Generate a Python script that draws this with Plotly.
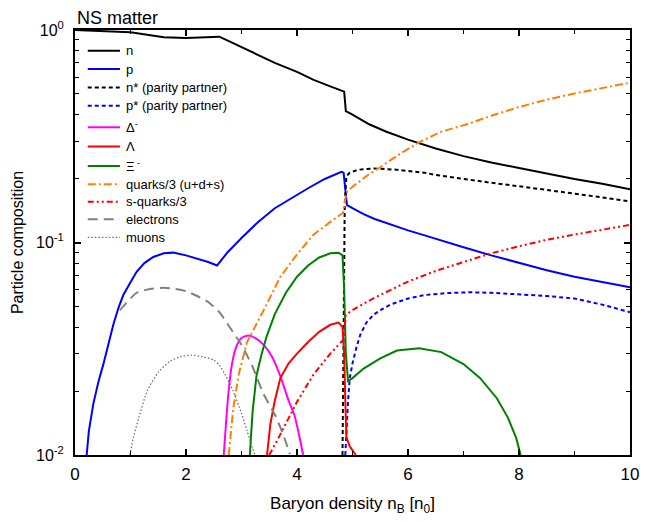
import plotly.graph_objects as go

# Particle fractions in neutron-star matter vs baryon density (units of n0)
n_x = [0, 0.5, 1.0, 1.3, 1.6, 2.0, 2.3, 2.6, 2.8, 3.0, 3.3, 3.6, 4.0, 4.3, 4.6, 4.85,
       4.88, 5.0, 5.3, 5.6, 6.0, 6.5, 7.0, 7.5, 8.0, 8.5, 9.0, 9.5, 10]
n_y = [1.0, 0.99, 0.975, 0.95, 0.925, 0.917, 0.92, 0.93, 0.88, 0.83, 0.76, 0.70, 0.635,
       0.582, 0.543, 0.513, 0.415, 0.400, 0.36, 0.333, 0.305, 0.277, 0.255, 0.238, 0.224,
       0.211, 0.199, 0.189, 0.178]

p_x = [0.21, 0.25, 0.33, 0.42, 0.51, 0.6, 0.69, 0.78, 0.87, 1.0, 1.11, 1.25, 1.41, 1.6,
       1.77, 2.0, 2.2, 2.4, 2.56, 2.75, 3.0, 3.3, 3.6, 3.9, 4.2, 4.5, 4.7, 4.8, 4.84, 4.86,
       4.88, 4.9, 5.0, 5.2, 5.4, 5.7, 6.0, 6.3, 6.6, 7.0, 7.5, 8.0, 8.5, 9.0, 9.5, 10]
p_y = [0.01, 0.013, 0.0174, 0.022, 0.0267, 0.0335, 0.041, 0.049, 0.0566, 0.065, 0.0728,
       0.08, 0.0855, 0.089, 0.0896, 0.087, 0.084, 0.081, 0.078, 0.09, 0.105, 0.125, 0.145,
       0.162, 0.18, 0.199, 0.21, 0.215, 0.213, 0.19, 0.16, 0.15, 0.145, 0.136, 0.129,
       0.121, 0.114, 0.108, 0.102, 0.095, 0.087, 0.080, 0.074, 0.069, 0.065, 0.0615]

ns_x = [4.82, 4.84, 4.86, 4.89, 4.95, 5.1, 5.4, 5.8, 6.3, 6.5, 7.0, 7.5, 8.0, 8.5, 9.0, 9.5, 10]
ns_y = [0.01, 0.05, 0.15, 0.205, 0.213, 0.22, 0.223, 0.22, 0.213, 0.208, 0.199, 0.191,
        0.184, 0.177, 0.170, 0.163, 0.156]

ps_x = [4.87, 4.9, 4.92, 4.95, 5.0, 5.07, 5.14, 5.25, 5.38, 5.5, 5.68, 6.0, 6.3, 6.7,
        7.1, 7.5, 8.0, 8.5, 9.0, 9.5, 10]
ps_y = [0.01, 0.015, 0.018, 0.023, 0.027, 0.032, 0.0368, 0.042, 0.0457, 0.048, 0.051,
        0.0545, 0.0566, 0.0578, 0.0583, 0.058, 0.0572, 0.056, 0.0545, 0.051, 0.047]

dm_x = [2.68, 2.72, 2.76, 2.82, 2.9, 3.0, 3.12, 3.25, 3.4, 3.55, 3.7, 3.85, 3.95, 4.05, 4.11]
dm_y = [0.01, 0.014, 0.019, 0.026, 0.032, 0.0355, 0.0365, 0.0355, 0.033, 0.029, 0.0235,
        0.018, 0.0155, 0.012, 0.01]

lam_x = [3.46, 3.52, 3.6, 3.7, 3.85, 4.0, 4.2, 4.4, 4.6, 4.75, 4.82, 4.85, 4.87, 4.89,
         4.95, 5.06]
lam_y = [0.01, 0.014, 0.018, 0.023, 0.027, 0.030, 0.034, 0.038, 0.041, 0.042, 0.040,
         0.03, 0.018, 0.0121, 0.011, 0.01]

xi_x = [3.15, 3.2, 3.27, 3.35, 3.45, 3.6, 3.8, 4.0, 4.2, 4.4, 4.6, 4.75, 4.82, 4.85, 4.88,
        4.92, 5.0, 5.2, 5.5, 5.8, 6.2, 6.6, 7.0, 7.3, 7.6, 7.8, 7.95, 8.03]
xi_y = [0.01, 0.016, 0.0236, 0.029, 0.036, 0.046, 0.058, 0.069, 0.078, 0.085, 0.089,
        0.0895, 0.087, 0.06, 0.03, 0.0223, 0.023, 0.0255, 0.0285, 0.031, 0.0318, 0.0305,
        0.0268, 0.023, 0.0185, 0.015, 0.012, 0.01]

qk_x = [2.77, 2.8, 2.85, 2.95, 3.1, 3.4, 3.7, 4.0, 4.3, 4.6, 4.83, 4.89, 5.0, 5.14, 5.3,
        5.5, 5.86, 6.22, 6.58, 7.06, 7.5, 8.0, 8.5, 9.0, 9.5, 10]
qk_y = [0.01, 0.012, 0.0165, 0.024, 0.034, 0.048, 0.069, 0.088, 0.109, 0.125, 0.138,
        0.172, 0.183, 0.195, 0.21, 0.226, 0.262, 0.298, 0.331, 0.36, 0.395, 0.434, 0.47,
        0.503, 0.535, 0.565]

sq_x = [3.5, 3.7, 4.0, 4.3, 4.6, 4.84, 4.88, 5.0, 5.2, 5.4, 5.7, 6.0, 6.5, 7.0, 7.5,
        8.0, 8.5, 9.0, 9.5, 10]
sq_y = [0.01, 0.0125, 0.0178, 0.024, 0.030, 0.035, 0.0457, 0.048, 0.0515, 0.055, 0.06,
        0.0655, 0.0735, 0.081, 0.089, 0.096, 0.103, 0.109, 0.115, 0.121]

el_x = [0.81, 0.9, 1.1, 1.3, 1.6, 1.8, 2.0, 2.2, 2.4, 2.6, 2.8, 3.0, 3.2, 3.4, 3.6, 3.75, 3.87]
el_y = [0.048, 0.051, 0.0577, 0.06, 0.0613, 0.0605, 0.059, 0.056, 0.0525, 0.047, 0.0395,
        0.033, 0.026, 0.0193, 0.0155, 0.0125, 0.0101]

mu_x = [0.99, 1.05, 1.15, 1.3, 1.5, 1.7, 1.9, 2.1, 2.3, 2.5, 2.6, 2.7, 2.85, 3.0, 3.1, 3.24]
mu_y = [0.01, 0.012, 0.015, 0.02, 0.0245, 0.0275, 0.029, 0.0295, 0.029, 0.028, 0.0265,
        0.024, 0.02, 0.0157, 0.013, 0.01]

# name, x, y, colour, dash, width, smooth curve?
series = [
    ("n", n_x, n_y, "black", "solid", 2, False),
    ("p", p_x, p_y, "#0000ff", "solid", 2, False),
    ("n* (parity partner)", ns_x, ns_y, "black", "4px,3px", 2, False),
    ("p* (parity partner)", ps_x, ps_y, "#0000ff", "4px,3px", 2, False),
    ("Δ<sup>-</sup>", dm_x, dm_y, "#ff00ff", "solid", 2, True),
    ("Λ", lam_x, lam_y, "#ff0000", "solid", 2, False),
    ("Ξ<sup> -</sup>", xi_x, xi_y, "#008000", "solid", 2, False),
    ("quarks/3 (u+d+s)", qk_x, qk_y, "#ff8000", "8px,3px,2px,3px", 2, False),
    ("s-quarks/3", sq_x, sq_y, "#ff0000", "6px,3px,2px,3px,2px,3px", 2, False),
    ("electrons", el_x, el_y, "#808080", "10px,6px", 2, True),
    ("muons", mu_x, mu_y, "#707070", "1.5px,2px", 1.3, True),
]

# Key rows (paper fraction from the top of the plotting area)
key_rows = [0.049, 0.092, 0.135, 0.178, 0.229, 0.274, 0.320, 0.363, 0.404, 0.445, 0.488]
key_x0, key_x1, key_text_x = 0.023, 0.081, 0.088

fig = go.Figure()
for name, xs, ys, color, dash, w, smooth in series:
    line = dict(color=color, dash=dash, width=w)
    if smooth:
        line.update(shape="spline", smoothing=0.6)
    fig.add_trace(go.Scatter(x=xs, y=ys, mode="lines", name=name, showlegend=False,
                             line=line))

shapes = []
annotations = []
for (name, _, _, color, dash, w, _), row in zip(series, key_rows):
    yk = 1 - row
    shapes.append(dict(type="line", xref="paper", yref="paper", x0=key_x0, x1=key_x1,
                       y0=yk, y1=yk, line=dict(color=color, dash=dash, width=w)))
    annotations.append(dict(text=name, xref="paper", yref="paper", x=key_text_x, y=yk,
                            xanchor="left", yanchor="middle", showarrow=False,
                            font=dict(size=13)))

annotations.append(dict(text="NS matter", xref="paper", yref="paper", x=0, y=1,
                        xanchor="left", yanchor="bottom", showarrow=False,
                        font=dict(size=18)))

font_family = "Liberation Sans, Arial, sans-serif"
y_minor = [k * 0.01 for k in range(2, 10)] + [k * 0.1 for k in range(2, 10)]

fig.update_layout(
    width=665, height=522,
    margin=dict(l=75, r=35, t=30, b=64),
    paper_bgcolor="white", plot_bgcolor="white",
    font=dict(family=font_family, color="black", size=16),
    showlegend=False,
    shapes=shapes,
    annotations=annotations,
    xaxis=dict(
        range=[0, 10], tickmode="array", tickvals=[0, 2, 4, 6, 8, 10],
        ticks="inside", ticklen=6, tickwidth=1.5, tickcolor="black",
        showline=True, linewidth=2, linecolor="black", mirror="allticks",
        showgrid=False, zeroline=False, ticklabelstandoff=3,
        tickfont=dict(size=17),
        minor=dict(tickmode="array", tickvals=[1, 3, 5, 7, 9], ticks="inside",
                   ticklen=4, tickwidth=1.2, tickcolor="black", showgrid=False),
        title=dict(text="Baryon density n<sub>B</sub> [n<sub>0</sub>]", standoff=14,
                   font=dict(size=17)),
    ),
    yaxis=dict(
        type="log", range=[-2, 0], tickmode="array", tickvals=[0.01, 0.1, 1],
        ticktext=["10<sup>-2</sup>", "10<sup>-1</sup>", "10<sup>0</sup>"],
        ticks="inside", ticklen=6, tickwidth=1.5, tickcolor="black",
        showline=True, linewidth=2, linecolor="black", mirror="allticks",
        showgrid=False, zeroline=False, ticklabelstandoff=6,
        minor=dict(tickmode="array", tickvals=y_minor, ticks="inside",
                   ticklen=4, tickwidth=1.2, tickcolor="black", showgrid=False),
        title=dict(text="Particle composition", standoff=8, font=dict(size=16)),
    ),
)

fig.write_html("out.html")
